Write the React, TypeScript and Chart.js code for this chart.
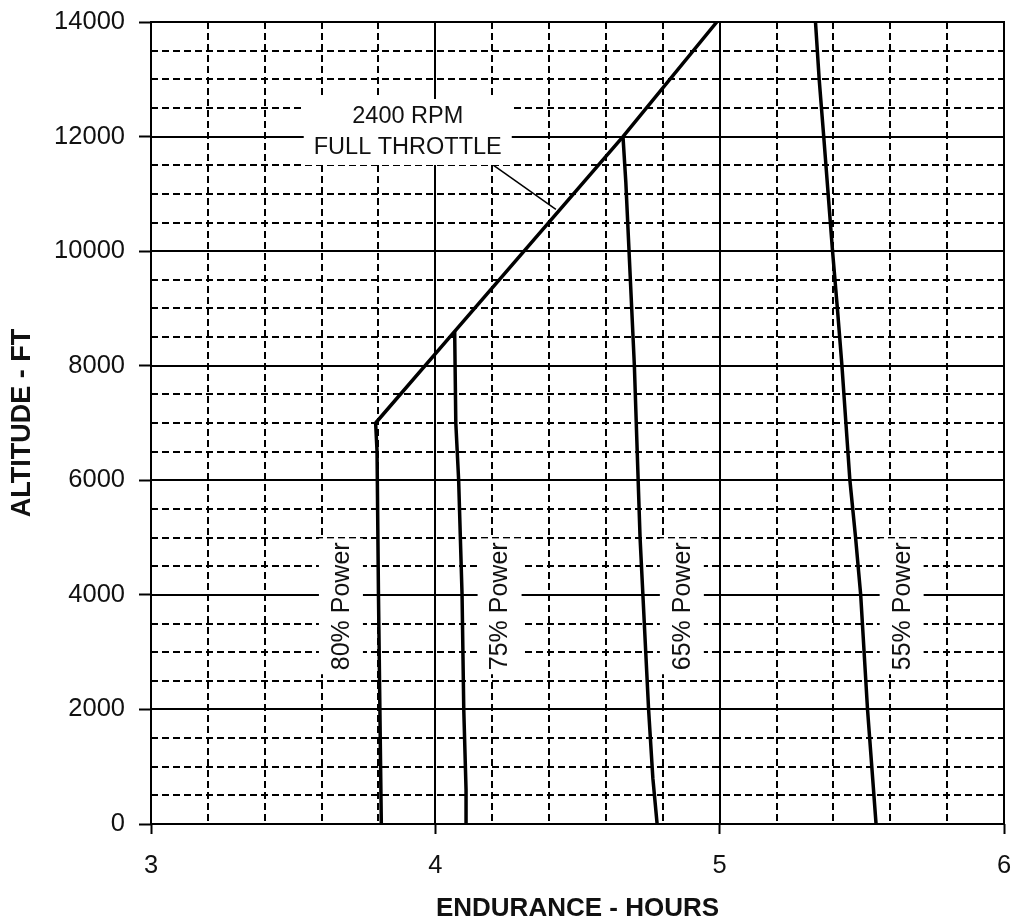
import React, { useEffect, useRef } from "react";
import { Chart, registerables } from "chart.js";

Chart.register(...registerables);

// ---- axis ticks ----
const xMajorTicks = [3, 4, 5, 6];
const yMajorTicks = [0, 2000, 4000, 6000, 8000, 10000, 12000, 14000];
const xMinorTicks = [3.2, 3.4, 3.6, 3.8, 4.2, 4.4, 4.6, 4.8, 5.2, 5.4, 5.6, 5.8];
const yMinorTicks = [500, 1000, 1500, 2500, 3000, 3500, 4500, 5000, 5500, 6500, 7000, 7500, 8500, 9000, 9500, 10500, 11000, 11500, 12500, 13000, 13500];

// ---- series (endurance hours vs altitude ft) ----
const throttleHours = [3.79, 4.068, 4.66, 4.99];
const throttleAlt = [7000, 8600, 12000, 14000];

const p80Hours = [3.81, 3.805, 3.8, 3.795, 3.79];
const p80Alt = [0, 2000, 4000, 6500, 7000];

const p75Hours = [4.11, 4.108, 4.1, 4.094, 4.082, 4.072, 4.068];
const p75Alt = [0, 600, 2000, 4000, 6000, 7000, 8600];

const p65Hours = [4.78, 4.765, 4.75, 4.74, 4.73, 4.72, 4.7, 4.67, 4.66];
const p65Alt = [0, 800, 2000, 3000, 4000, 5000, 8000, 11200, 12000];

const p55Hours = [5.55, 5.535, 5.52, 5.496, 5.478, 5.458, 5.444, 5.43, 5.414, 5.397, 5.366, 5.35, 5.337];
const p55Alt = [0, 1000, 2000, 4000, 5000, 6000, 7000, 8000, 9000, 10000, 12000, 13000, 14000];

// leader line from label to the full-throttle line
const leaderHours = [4.195, 4.424];
const leaderAlt = [11534, 10731];

// ---- text annotations (data coordinates) ----
const labelTexts = ["80% Power", "75% Power", "65% Power", "55% Power"];
const labelHours = [3.668, 4.226, 4.867, 5.64];
const labelAlt = [3800, 3800, 3800, 3800];

const noteLines = ["2400 RPM", "FULL THROTTLE"];
const noteHours = 3.903;
const noteAlt = 12080;

const FONT = "'Liberation Sans', Arial, Helvetica, sans-serif";

const toPoints = (xs: number[], ys: number[]) => xs.map((x, i) => ({ x, y: ys[i] }));

const gridPlugin = {
  id: "customGrid",
  beforeDatasetsDraw(chart: any) {
    const { ctx, chartArea, scales } = chart;
    const { left, right, top, bottom } = chartArea;
    const xs = scales.x;
    const ys = scales.y;
    ctx.save();
    ctx.strokeStyle = "#000";
    ctx.lineWidth = 2;
    ctx.setLineDash([7, 4]);
    for (const v of xMinorTicks) {
      const px = Math.round(xs.getPixelForValue(v));
      ctx.beginPath();
      ctx.moveTo(px, top);
      ctx.lineTo(px, bottom);
      ctx.stroke();
    }
    for (const v of yMinorTicks) {
      const py = Math.round(ys.getPixelForValue(v));
      ctx.beginPath();
      ctx.moveTo(left, py);
      ctx.lineTo(right, py);
      ctx.stroke();
    }
    ctx.setLineDash([]);
    ctx.lineWidth = 2;
    for (const v of xMajorTicks) {
      const px = Math.round(xs.getPixelForValue(v));
      ctx.beginPath();
      ctx.moveTo(px, top - 1);
      ctx.lineTo(px, bottom + 1);
      ctx.stroke();
    }
    for (const v of yMajorTicks) {
      const py = Math.round(ys.getPixelForValue(v));
      ctx.beginPath();
      ctx.moveTo(left - 1, py);
      ctx.lineTo(right + 1, py);
      ctx.stroke();
    }
    ctx.restore();
  },
};

const labelPlugin = {
  id: "customLabels",
  afterDatasetsDraw(chart: any) {
    const { ctx, scales } = chart;
    const xs = scales.x;
    const ys = scales.y;
    ctx.save();
    ctx.textAlign = "center";
    ctx.textBaseline = "middle";
    // rotated power labels
    ctx.font = `25px ${FONT}`;
    labelTexts.forEach((t, i) => {
      const px = xs.getPixelForValue(labelHours[i]);
      const py = ys.getPixelForValue(labelAlt[i]);
      const w = ctx.measureText(t).width;
      ctx.save();
      ctx.translate(px, py);
      ctx.rotate(-Math.PI / 2);
      ctx.fillStyle = "#fff";
      ctx.fillRect(-w / 2 - 4, -22, w + 8, 44);
      ctx.fillStyle = "#111";
      ctx.fillText(t, 0, 1);
      ctx.restore();
    });
    // 2400 RPM note
    ctx.font = `23.5px ${FONT}`;
    const nx = xs.getPixelForValue(noteHours);
    const ny = ys.getPixelForValue(noteAlt);
    const lineH = 31;
    const maxW = Math.max(...noteLines.map((l) => ctx.measureText(l).width));
    const h = noteLines.length * lineH + 4;
    ctx.fillStyle = "#fff";
    ctx.fillRect(nx - maxW / 2 - 10, ny - h / 2, maxW + 20, h);
    ctx.fillStyle = "#111";
    noteLines.forEach((l, i) => {
      ctx.fillText(l, nx, ny - ((noteLines.length - 1) * lineH) / 2 + i * lineH);
    });
    ctx.restore();
  },
};

export default function App() {
  const canvasRef = useRef<HTMLCanvasElement | null>(null);

  useEffect(() => {
    if (!canvasRef.current) return;
    const curve = (xs: number[], ys: number[], width = 3.5) => ({
      data: toPoints(xs, ys),
      showLine: true,
      borderColor: "#000",
      borderWidth: width,
      pointRadius: 0,
      tension: 0,
      fill: false,
    });
    const chart = new Chart(canvasRef.current, {
      type: "scatter",
      data: {
        datasets: [
          curve(throttleHours, throttleAlt),
          curve(p80Hours, p80Alt),
          curve(p75Hours, p75Alt),
          curve(p65Hours, p65Alt),
          curve(p55Hours, p55Alt),
          curve(leaderHours, leaderAlt, 1.5),
        ] as any,
      },
      options: {
        responsive: false,
        animation: false,
        devicePixelRatio: 1,
        layout: { padding: { top: 22, right: 8, left: 0, bottom: 0 } },
        plugins: { legend: { display: false }, tooltip: { enabled: false } },
        scales: {
          x: {
            type: "linear",
            min: 3,
            max: 6,
            afterBuildTicks: (s: any) => {
              s.ticks = xMajorTicks.map((v) => ({ value: v }));
            },
            ticks: {
              font: { family: FONT, size: 25.5 },
              color: "#111",
              padding: 17,
              maxRotation: 0,
              callback: (v: any) => String(v),
            },
            grid: { drawOnChartArea: false, drawTicks: true, tickLength: 10, tickWidth: 2, tickColor: "#000" },
            border: { display: false },
            title: {
              display: true,
              text: "ENDURANCE - HOURS",
              color: "#111",
              font: { family: FONT, size: 26, weight: "bold" },
              padding: { top: 0, bottom: -2 },
            },
            afterFit: (s: any) => {
              s.height = 98;
              s.paddingLeft = 0;
              s.paddingRight = 0;
            },
          },
          y: {
            type: "linear",
            min: 0,
            max: 14000,
            afterBuildTicks: (s: any) => {
              s.ticks = yMajorTicks.map((v) => ({ value: v }));
            },
            ticks: {
              font: { family: FONT, size: 25.5 },
              color: "#111",
              padding: 14,
              callback: (v: any) => String(v),
            },
            grid: { drawOnChartArea: false, drawTicks: true, tickLength: 12, tickWidth: 2, tickColor: "#000" },
            border: { display: false },
            title: {
              display: true,
              text: "ALTITUDE - FT",
              color: "#111",
              font: { family: FONT, size: 27, weight: "bold" },
              padding: { top: 6, bottom: 0 },
            },
            afterFit: (s: any) => {
              s.width = 151;
              s.paddingTop = 0;
              s.paddingBottom = 0;
            },
          },
        },
      } as any,
      plugins: [gridPlugin, labelPlugin],
    });
    return () => chart.destroy();
  }, []);

  return (
    <div style={{ position: "fixed", left: 0, top: 0, width: 1012, height: 922, background: "#fff" }}>
      <canvas ref={canvasRef} width={1012} height={922} style={{ display: "block" }} />
    </div>
  );
}
